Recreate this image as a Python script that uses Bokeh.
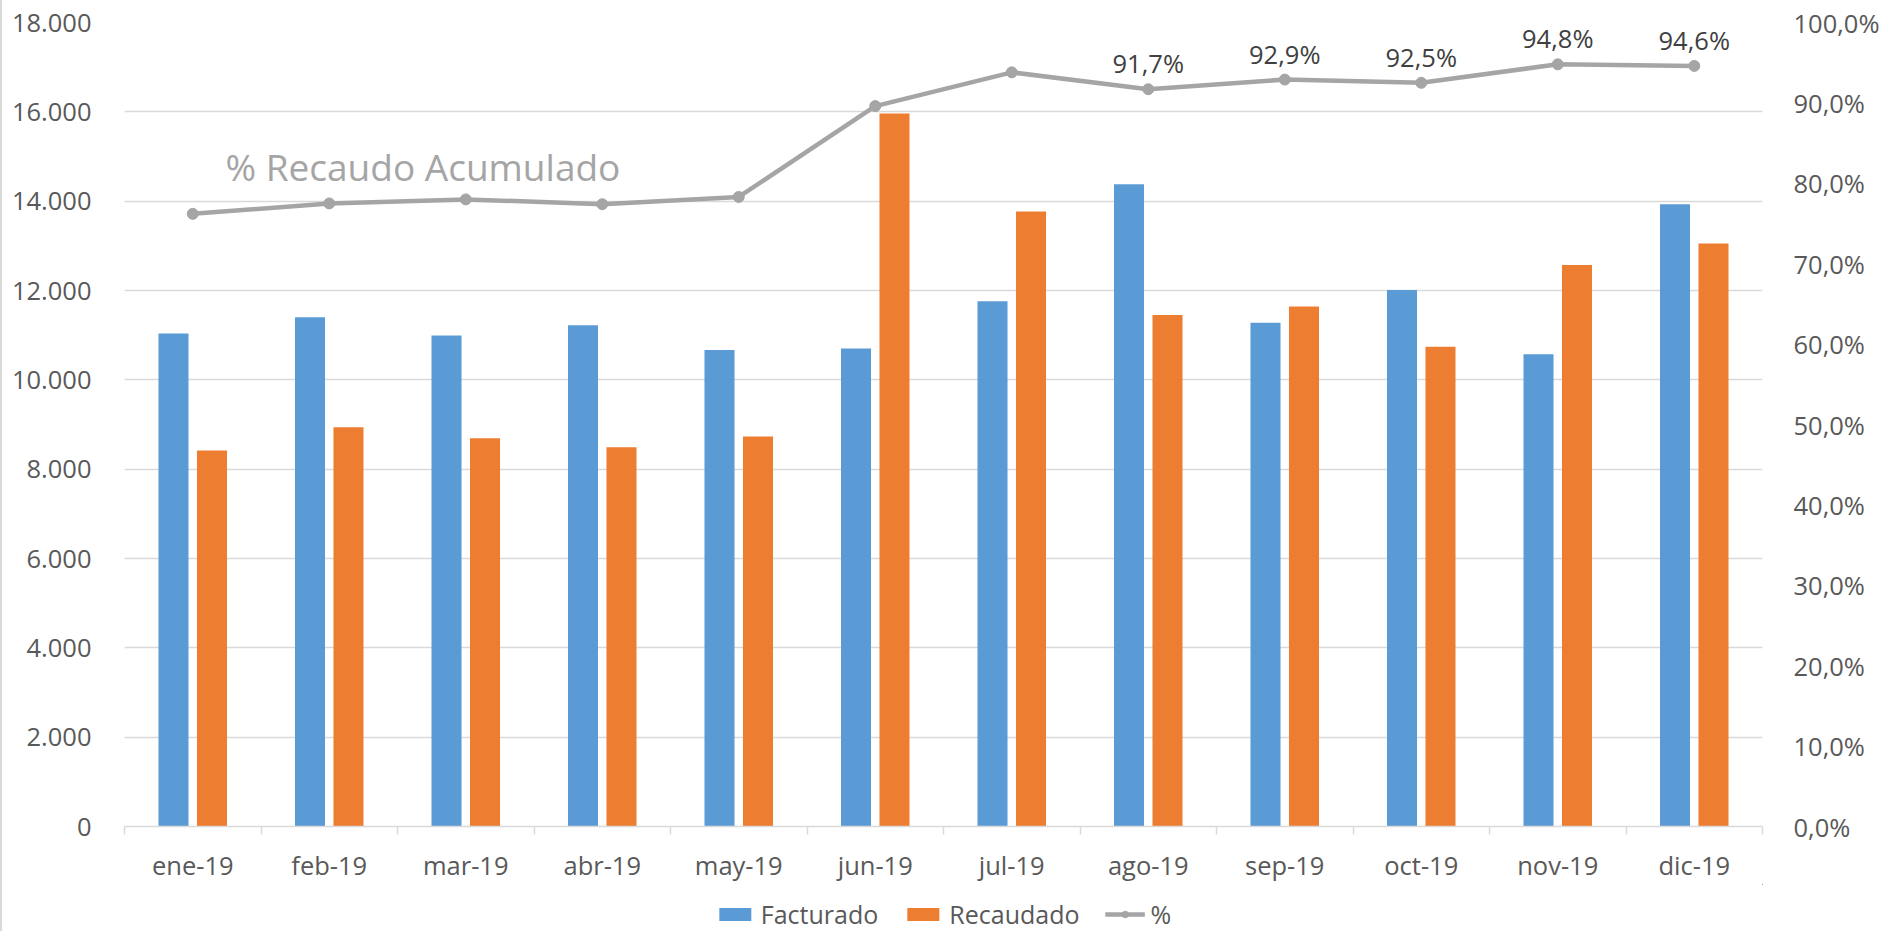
from bokeh.plotting import figure
from bokeh.layouts import column
from bokeh.models import (Range1d, LinearAxis, FixedTicker, CustomJSTickFormatter,
                          Legend, LegendItem, Label, ColumnDataSource)
from bokeh.transform import dodge
from bokeh.core.properties import value
from bokeh.embed import file_html
from bokeh.resources import INLINE

# ---- data ----
months = ["ene-19", "feb-19", "mar-19", "abr-19", "may-19", "jun-19",
          "jul-19", "ago-19", "sep-19", "oct-19", "nov-19", "dic-19"]
facturado = [11040, 11400, 10990, 11220, 10670, 10700, 11760, 14380, 11280, 12010, 10570, 13930]
recaudado = [8420, 8940, 8690, 8490, 8730, 15960, 13770, 11450, 11640, 10740, 12570, 13050]
pct = [76.2, 77.5, 78.0, 77.4, 78.3, 89.6, 93.8, 91.7, 92.9, 92.5, 94.8, 94.6]
labelled = [False, False, False, False, False, False, False, True, True, True, True, True]
left_ticks = [0, 2000, 4000, 6000, 8000, 10000, 12000, 14000, 16000, 18000]
right_ticks = [0, 10, 20, 30, 40, 50, 60, 70, 80, 90, 100]
series_names = ["Facturado", "Recaudado", "%"]
annotation_text = "% Recaudo Acumulado"

FONT = "Open Sans"
FS = "25.5px"
GRID = "#D9D9D9"
TXT = "#595959"
BLUE = "#5B9BD5"
ORANGE = "#ED7D31"
GREY = "#A5A5A5"
PAGE_BG = {"background": "linear-gradient(to right, #D9D9D9 0px, #D9D9D9 2px, #FFFFFF 2px)"}

n = len(months)
xs = [i + 0.5 for i in range(n)]
pct_labels = [(f"{v:.1f}".replace(".", ",") + "%") if show else "" for v, show in zip(pct, labelled)]

src = ColumnDataSource(dict(x=xs, month=months, facturado=facturado, recaudado=recaudado,
                            pct=pct, pct_label=pct_labels))

p = figure(width=1883, height=884, x_range=Range1d(0, n), y_range=Range1d(0, 18000),
           output_backend="svg", toolbar_location=None,
           min_border_left=124, min_border_right=121, min_border_top=22, min_border_bottom=58)
p.extra_y_ranges = {"pct": Range1d(0, 100)}
p.outline_line_color = None
p.background_fill_color = "white"
p.border_fill_alpha = 0
p.styles = PAGE_BG

# x axis: labels at category centres, tick marks between categories
xa = p.xaxis[0]
xa.ticker = FixedTicker(ticks=xs, minor_ticks=list(range(n + 1)))
xa.formatter = CustomJSTickFormatter(args=dict(labels=months),
                                     code="return labels[Math.floor(tick)];")
xa.major_tick_out = 0
xa.major_tick_in = 0
xa.minor_tick_out = 8
xa.minor_tick_in = 0
xa.minor_tick_line_color = GRID
xa.minor_tick_line_width = 1.5
xa.axis_line_color = GRID
xa.axis_line_width = 1.5
xa.major_label_standoff = 13
xa.major_label_text_font = FONT
xa.major_label_text_font_size = FS
xa.major_label_text_color = TXT

# left axis
ya = p.yaxis[0]
ya.ticker = FixedTicker(ticks=left_ticks)
ya.formatter = CustomJSTickFormatter(
    code="return Math.round(tick).toString().replace(/\\B(?=(\\d{3})+(?!\\d))/g, '.');")
ya.axis_line_color = None
ya.major_tick_line_color = None
ya.minor_tick_line_color = None
ya.major_label_standoff = 27
ya.major_label_text_font = FONT
ya.major_label_text_font_size = FS
ya.major_label_text_color = TXT

# right axis
ra = LinearAxis(y_range_name="pct", ticker=FixedTicker(ticks=right_ticks),
                formatter=CustomJSTickFormatter(
                    code="return tick.toFixed(1).replace('.', ',') + '%';"))
ra.axis_line_color = None
ra.major_tick_line_color = None
ra.minor_tick_line_color = None
ra.major_label_standoff = 25
ra.major_label_text_font = FONT
ra.major_label_text_font_size = FS
ra.major_label_text_color = TXT
p.add_layout(ra, "right")

p.xgrid.visible = False
p.ygrid.grid_line_color = GRID
p.ygrid.grid_line_width = 1.5

# bars
p.vbar(x=dodge("x", -0.141), top="facturado", width=0.22, source=src,
       fill_color=BLUE, line_color=None)
p.vbar(x=dodge("x", 0.141), top="recaudado", width=0.22, source=src,
       fill_color=ORANGE, line_color=None)

# percentage line
p.line(x="x", y="pct", source=src, y_range_name="pct", line_color=GREY, line_width=4.5)
p.scatter(x="x", y="pct", source=src, y_range_name="pct", size=11,
          fill_color=GREY, line_color=GREY)
p.text(x="x", y="pct", text="pct_label", source=src, y_range_name="pct",
       text_font=value(FONT), text_font_size=FS, text_color="#404040",
       text_align="center", text_baseline="alphabetic", y_offset=-26)

# annotation
p.add_layout(Label(x=0.74, y=14780, text=annotation_text, text_font=FONT,
                   text_font_size="37px", text_color=GREY, text_baseline="alphabetic"))

# ---- legend strip below the chart (proxies use the same data, kept out of view) ----
lg = figure(width=1883, height=47, x_range=Range1d(-200, -199), y_range=Range1d(-200, -199),
            output_backend="svg", toolbar_location=None,
            x_axis_location=None, y_axis_location=None,
            min_border_left=0, min_border_right=0, min_border_top=0, min_border_bottom=0)
lg.outline_line_color = None
lg.xgrid.visible = False
lg.ygrid.visible = False
lg.background_fill_color = "white"
lg.border_fill_alpha = 0
lg.styles = PAGE_BG
r1 = lg.vbar(x="x", top="facturado", width=0.22, source=src, fill_color=BLUE, line_color=None)
r2 = lg.vbar(x="x", top="recaudado", width=0.22, source=src, fill_color=ORANGE, line_color=None)
r3 = lg.line(x="x", y="pct", source=src, line_color=GREY, line_width=4.5)
r4 = lg.scatter(x="x", y="pct", source=src, size=11, fill_color=GREY, line_color=GREY)

legend = Legend(items=[LegendItem(label=series_names[0], renderers=[r1]),
                       LegendItem(label=series_names[1], renderers=[r2]),
                       LegendItem(label=series_names[2], renderers=[r3, r4])],
                orientation="horizontal", location="bottom_center",
                glyph_width=40, glyph_height=16, label_standoff=6, spacing=25,
                padding=0, margin=0, border_line_color=None,
                background_fill_alpha=0,
                label_text_font=FONT, label_text_font_size="25px", label_text_color=TXT)
lg.add_layout(legend, "center")

layout = column(p, lg, spacing=0)
open("out.html", "w").write(file_html(layout, INLINE))
